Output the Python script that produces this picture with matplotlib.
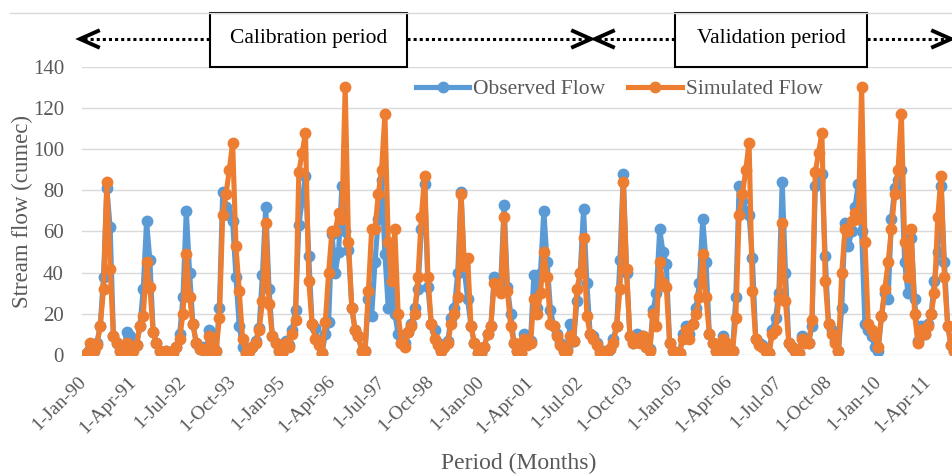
import numpy as np
import matplotlib
matplotlib.use("Agg")
import matplotlib.pyplot as plt
from matplotlib.patches import Rectangle
from matplotlib.transforms import ScaledTranslation

plt.rcParams["font.family"] = ["Liberation Serif", "DejaVu Serif"]

# =========================
# DATA (monthly, Jan 1990 - Dec 2011)
# =========================
observed = [
    1, 3, 2, 6, 14, 38, 81, 62, 9, 6, 2, 1,          # 1990
    11, 9, 3, 5, 14, 32, 65, 46, 11, 6, 2, 1,        # 1991
    2, 1, 2, 4, 10, 28, 70, 40, 15, 6, 3, 4,         # 1992
    1, 12, 5, 2, 23, 79, 72, 68, 65, 38, 14, 4,      # 1993
    1, 2, 4, 7, 13, 39, 72, 32, 9, 6, 2, 1,          # 1994
    7, 5, 12, 22, 63, 75, 87, 48, 15, 13, 6, 1,      # 1995
    10, 16, 59, 40, 50, 82, 60, 51, 23, 12, 9, 2,    # 1996
    2, 27, 19, 45, 66, 85, 49, 23, 32, 20, 10, 6,    # 1997
    6, 11, 15, 23, 32, 61, 83, 33, 15, 12, 6, 2,     # 1998
    5, 7, 18, 23, 40, 79, 41, 27, 14, 6, 1, 1,       # 1999
    4, 10, 14, 38, 33, 35, 73, 33, 20, 6, 2, 1,      # 2000
    10, 6, 7, 39, 23, 40, 70, 45, 22, 14, 10, 6,     # 2001
    2, 3, 15, 7, 26, 40, 71, 35, 10, 9, 6, 2,        # 2002
    2, 1, 3, 8, 14, 46, 88, 40, 9, 6, 10, 7,         # 2003
    9, 4, 3, 22, 30, 61, 50, 44, 6, 2, 1, 1,         # 2004
    10, 14, 10, 15, 23, 35, 66, 45, 10, 6, 2, 1,     # 2005
    9, 6, 3, 2, 28, 82, 75, 70, 68, 47, 8, 6,        # 2006
    5, 2, 1, 12, 18, 30, 84, 40, 6, 4, 2, 1,         # 2007
    9, 7, 6, 14, 82, 85, 88, 48, 15, 12, 7, 2,       # 2008
    23, 64, 53, 60, 72, 83, 60, 15, 12, 9, 4, 2,     # 2009
    19, 30, 27, 66, 81, 85, 90, 45, 30, 57, 27, 7,   # 2010
    14, 10, 15, 20, 36, 50, 82, 45, 14, 5, 2, 1,     # 2011
]

simulated = [
    1, 6, 2, 5, 14, 32, 84, 42, 9, 6, 2, 1,          # 1990
    6, 4, 2, 5, 14, 19, 45, 33, 11, 6, 2, 1,         # 1991
    2, 1, 1, 4, 8, 20, 49, 28, 15, 6, 3, 3,          # 1992
    1, 9, 4, 2, 18, 68, 78, 90, 103, 53, 31, 8,      # 1993
    1, 2, 4, 6, 12, 26, 64, 25, 9, 6, 2, 1,          # 1994
    6, 4, 10, 17, 89, 98, 108, 36, 15, 8, 5, 1,      # 1995
    16, 40, 60, 60, 69, 66, 130, 55, 23, 12, 9, 2,   # 1996
    2, 31, 61, 61, 78, 90, 117, 55, 36, 61, 20, 6,   # 1997
    4, 11, 14, 20, 38, 67, 87, 38, 15, 8, 5, 2,      # 1998
    4, 6, 15, 20, 28, 78, 43, 47, 14, 6, 1, 1,       # 1999
    4, 10, 14, 35, 33, 30, 67, 31, 14, 6, 2, 1,      # 2000
    8, 5, 6, 27, 20, 30, 50, 38, 15, 14, 9, 5,       # 2001
    2, 2, 9, 7, 32, 40, 57, 19, 10, 8, 5, 1,         # 2002
    1, 2, 3, 6, 14, 32, 84, 42, 9, 6, 8, 6,          # 2003
    9, 4, 2, 20, 14, 45, 35, 33, 6, 2, 1, 1,         # 2004
    8, 12, 8, 15, 20, 28, 49, 28, 10, 6, 2, 1,       # 2005
    8, 6, 2, 2, 18, 68, 78, 90, 103, 31, 8, 5,       # 2006
    4, 2, 1, 10, 12, 27, 64, 26, 6, 4, 2, 1,         # 2007
    8, 6, 6, 17, 89, 98, 108, 36, 15, 10, 6, 2,      # 2008
    40, 61, 60, 65, 69, 66, 130, 55, 15, 12, 9, 4,   # 2009
    19, 32, 45, 61, 78, 90, 117, 55, 38, 61, 20, 6,  # 2010
    12, 10, 14, 20, 30, 67, 87, 38, 14, 5, 2, 1,     # 2011
]

tick_labels = [
    "1-Jan-90", "1-Apr-91", "1-Jul-92", "1-Oct-93", "1-Jan-95", "1-Apr-96",
    "1-Jul-97", "1-Oct-98", "1-Jan-00", "1-Apr-01", "1-Jul-02", "1-Oct-03",
    "1-Jan-05", "1-Apr-06", "1-Jul-07", "1-Oct-08", "1-Jan-10", "1-Apr-11",
]
TICK_STEP = 15  # months between labels

BLUE = "#5B9BD5"
ORANGE = "#ED7D31"
GREY_TXT = "#595959"
GRID = "#D9D9D9"

# =========================
# FIGURE
# =========================
W, H = 952, 474
fig = plt.figure(figsize=(W / 100, H / 100), dpi=100)
ax = fig.add_axes([82 / W, 1 - 355 / H, 870 / W, (355 - 66.7) / H])

x = np.arange(len(observed))
ax.plot(x, observed, color=BLUE, lw=3.7, marker="o", ms=7.5, label="Observed Flow")
ax.plot(x, simulated, color=ORANGE, lw=3.7, marker="o", ms=7.5, label="Simulated Flow")

ax.set_xlim(-1.5, 261.3)
ax.set_ylim(0, 140)
ax.set_yticks(np.arange(0, 141, 20))
ax.set_xticks(np.arange(len(tick_labels)) * TICK_STEP)
ax.set_xticklabels(tick_labels, rotation=45, ha="right", va="top",
                   rotation_mode="anchor")
ax.tick_params(axis="both", length=0, colors=GREY_TXT)
ax.tick_params(axis="x", labelsize=14, pad=8)
ax.tick_params(axis="y", labelsize=15, pad=13)
shift = ScaledTranslation(-9 / 100, -7 / 100, fig.dpi_scale_trans)
for lbl in ax.get_xticklabels():
    lbl.set_transform(lbl.get_transform() + shift)
for s in ax.spines.values():
    s.set_visible(False)
ax.grid(axis="y", color=GRID, lw=1)
ax.set_axisbelow(True)

ax.legend(loc="center", bbox_to_anchor=(619 / W, 1 - 89 / H),
          bbox_transform=fig.transFigure, ncol=2, frameon=False,
          fontsize=15.5, handlelength=2.5, handletextpad=0.15,
          columnspacing=1.1, labelcolor=GREY_TXT)

fig.text(22 / W, 1 - 212 / H, "Stream flow (cumec)", rotation=90,
         ha="center", va="center", fontsize=16.5, color=GREY_TXT)
fig.text(519 / W, 1 - 463 / H, "Period (Months)",
         ha="center", va="center", fontsize=17, color=GREY_TXT)

# =========================
# PERIOD ARROWS (pixel overlay)
# =========================
ov = fig.add_axes([0, 0, 1, 1], zorder=5)
ov.set_xlim(0, W)
ov.set_ylim(H, 0)
ov.axis("off")

ov.plot([10, W], [13, 13], color=GRID, lw=1)

ARR_Y = 39


def dotted(x0, x1):
    ov.plot([x0, x1], [ARR_Y, ARR_Y], color="black", lw=2.2,
            linestyle=(0, (1, 1)), solid_capstyle="butt")


def chevron(tip, direction):
    back = tip - 18 * direction
    ov.plot([back, tip, back], [ARR_Y - 8, ARR_Y, ARR_Y + 8],
            color="black", lw=2.8, solid_joinstyle="miter")


def box(x0, x1, label):
    ov.add_patch(Rectangle((x0, 13), x1 - x0, 54, facecolor="white",
                           edgecolor="black", lw=1.5))
    ov.text((x0 + x1) / 2, 38, label, ha="center", va="center",
            fontsize=15.5, color="black")


dotted(84, 210)
chevron(80, -1)
box(210, 407, "Calibration period")
dotted(407, 589)
chevron(591, 1)

chevron(595, -1)
dotted(598, 675)
box(675, 867, "Validation period")
dotted(867, 948)
chevron(951, 1)

fig.savefig("out.png", dpi=100)
